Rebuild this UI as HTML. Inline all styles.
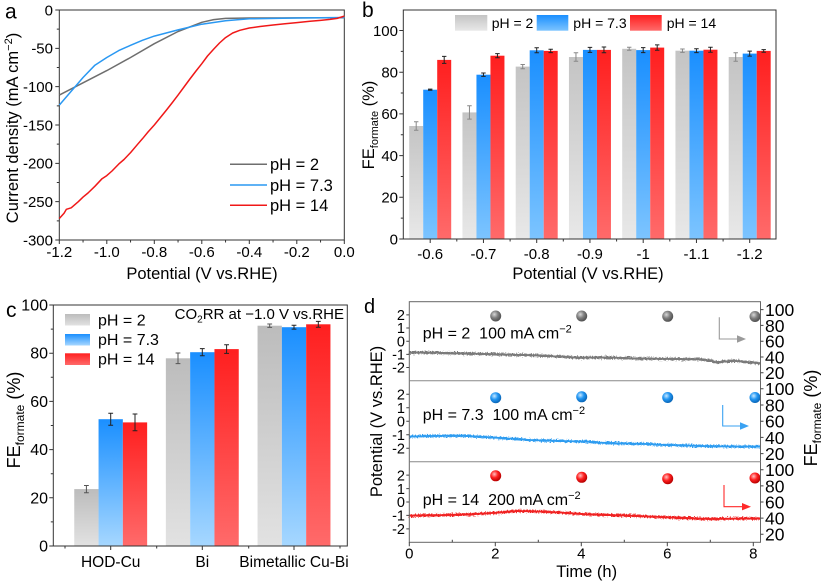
<!DOCTYPE html>
<html><head><meta charset="utf-8"><style>
html,body{margin:0;padding:0;background:#fff;}
svg{display:block;font-family:"Liberation Sans",Arial,sans-serif;}
</style></head><body>
<svg width="827" height="585" viewBox="0 0 827 585" xmlns="http://www.w3.org/2000/svg">
<defs>
<linearGradient id="gG" x1="0" y1="0" x2="0" y2="1"><stop offset="0" stop-color="#c4c4c4"/><stop offset="1" stop-color="#e8e8e8"/></linearGradient>
<linearGradient id="gB" x1="0" y1="0" x2="0" y2="1"><stop offset="0" stop-color="#1a8fff"/><stop offset="1" stop-color="#7cc4ff"/></linearGradient>
<linearGradient id="gR" x1="0" y1="0" x2="0" y2="1"><stop offset="0" stop-color="#ff1f1f"/><stop offset="1" stop-color="#ff6a6a"/></linearGradient>
<linearGradient id="gB2" x1="0" y1="0" x2="0" y2="1"><stop offset="0" stop-color="#1a8fff"/><stop offset="1" stop-color="#a6d7ff"/></linearGradient>
<linearGradient id="gG2" x1="0" y1="0" x2="0" y2="1"><stop offset="0" stop-color="#bcbcbc"/><stop offset="1" stop-color="#e2e2e2"/></linearGradient>
<radialGradient id="sG" cx="0.38" cy="0.35" r="0.65"><stop offset="0" stop-color="#d8d8d8"/><stop offset="0.5" stop-color="#808080"/><stop offset="1" stop-color="#505050"/></radialGradient>
<radialGradient id="sB" cx="0.38" cy="0.35" r="0.65"><stop offset="0" stop-color="#c8e8ff"/><stop offset="0.5" stop-color="#2196f3"/><stop offset="1" stop-color="#0b67b8"/></radialGradient>
<radialGradient id="sR" cx="0.38" cy="0.35" r="0.65"><stop offset="0" stop-color="#ffc0c0"/><stop offset="0.5" stop-color="#ff2020"/><stop offset="1" stop-color="#b80000"/></radialGradient>
<filter id="nz" x="0" y="0" width="827" height="585" filterUnits="userSpaceOnUse"><feTurbulence type="fractalNoise" baseFrequency="0.8" numOctaves="1" seed="3" result="t"/><feDisplacementMap in="SourceGraphic" in2="t" scale="5" xChannelSelector="R" yChannelSelector="G"/></filter>
</defs>

<!-- ================= PANEL A ================= -->
<text x="5" y="18.5" font-size="21">a</text>
<g stroke="#333" stroke-width="1" fill="none">
<rect x="59.3" y="10" width="285" height="230"/>
<path d="M59.3,240v4M106.8,240v4M154.3,240v4M201.8,240v4M249.3,240v4M296.8,240v4M344.3,240v4
M83.05,240v2.5M130.55,240v2.5M178.05,240v2.5M225.55,240v2.5M273.05,240v2.5M320.55,240v2.5
M59.3,10h-4M59.3,48.33h-4M59.3,86.67h-4M59.3,125h-4M59.3,163.33h-4M59.3,201.67h-4M59.3,240h-4
M59.3,29.17h-2.5M59.3,67.5h-2.5M59.3,105.83h-2.5M59.3,144.17h-2.5M59.3,182.5h-2.5M59.3,220.83h-2.5"/>
</g>
<g font-size="15" text-anchor="end">
<text x="53" y="15.3">0</text><text x="53" y="53.6">-50</text><text x="53" y="92">-100</text><text x="53" y="130.3">-150</text><text x="53" y="168.6">-200</text><text x="53" y="207">-250</text><text x="53" y="245.3">-300</text>
</g>
<g font-size="15" text-anchor="middle">
<text x="59.3" y="257">-1.2</text><text x="106.8" y="257">-1.0</text><text x="154.3" y="257">-0.8</text><text x="201.8" y="257">-0.6</text><text x="249.3" y="257">-0.4</text><text x="296.8" y="257">-0.2</text><text x="344.3" y="257">0.0</text>
</g>
<text x="202" y="279" font-size="16.5" text-anchor="middle">Potential (V vs.RHE)</text>
<text transform="translate(18,128) rotate(-90)" font-size="16.5" text-anchor="middle">Current density (mA cm<tspan font-size="11" dy="-6">−2</tspan><tspan dy="6">)</tspan></text>
<g fill="none" stroke-width="1.5" stroke-linejoin="round">
<polyline stroke="#6e6e6e" points="59.3,95.1 83.05,82.8 106.8,70.6 130.55,57.5 154.3,43.7 178.05,31.5 201.8,22.3 213.7,19.6 225.55,18.4 249.3,18.05 296.8,17.9 344.3,17.7"/>
<polyline stroke="#2a98f2" points="59.3,105.1 71.2,91.3 83.05,77.5 94.9,65.2 106.8,57.5 118.7,50.6 130.55,45.3 142.4,40.3 154.3,36.1 178.05,29.9 201.8,24.2 225.55,20.7 249.3,18.8 296.8,18.05 344.3,17.5"/>
<polyline stroke="#f01818" points="59.3,218.5 64.05,213.2 66.4,209.3 71.2,207.8 78.3,201.7 83.05,197.1 88,193 94.9,186.3 102.05,178.7 106.8,175.6 112,171 118.7,164.1 124,159.5 130.55,152.6 137.7,144.2 142.4,138.8 148,132 154.3,125 160,118 166.2,110.4 172,103 178.05,95.1 184,87 189.9,79 196,71 201.8,63.7 207.5,56 213.7,49.1 219.5,43 225.55,37.6 232.7,33 239.8,30.3 249.3,28 260,26.5 273.05,25 285,23.8 296.8,22.65 310,21.3 320.55,20.35 330,19.4 337.2,18.4 344.3,16.1"/>
</g>
<g stroke-width="1.5">
<line x1="230" y1="164.3" x2="267" y2="164.3" stroke="#6e6e6e"/>
<line x1="230" y1="185" x2="267" y2="185" stroke="#2a98f2"/>
<line x1="230" y1="205.3" x2="267" y2="205.3" stroke="#f01818"/>
</g>
<g font-size="16.5">
<text x="270" y="170">pH = 2</text><text x="270" y="190.8">pH = 7.3</text><text x="270" y="211">pH = 14</text>
</g>

<!-- ================= PANEL B ================= -->
<text x="362" y="17" font-size="21">b</text>
<g>
<rect x="409.2" y="126" width="14" height="113" fill="url(#gG)"/>
<rect x="423.2" y="89.7" width="14" height="149.3" fill="url(#gB)"/>
<rect x="437.2" y="59.9" width="14" height="179.1" fill="url(#gR)"/>
<rect x="462.45" y="112.4" width="14" height="126.6" fill="url(#gG)"/>
<rect x="476.45" y="74.7" width="14" height="164.3" fill="url(#gB)"/>
<rect x="490.45" y="55.7" width="14" height="183.3" fill="url(#gR)"/>
<rect x="515.7" y="66.6" width="14" height="172.4" fill="url(#gG)"/>
<rect x="529.7" y="50.3" width="14" height="188.7" fill="url(#gB)"/>
<rect x="543.7" y="50.9" width="14" height="188.1" fill="url(#gR)"/>
<rect x="568.95" y="57" width="14" height="182" fill="url(#gG)"/>
<rect x="582.95" y="49.9" width="14" height="189.1" fill="url(#gB)"/>
<rect x="596.95" y="49.9" width="14" height="189.1" fill="url(#gR)"/>
<rect x="622.2" y="48.8" width="14" height="190.2" fill="url(#gG)"/>
<rect x="636.2" y="50.1" width="14" height="188.9" fill="url(#gB)"/>
<rect x="650.2" y="47.6" width="14" height="191.4" fill="url(#gR)"/>
<rect x="675.45" y="50.7" width="14" height="188.3" fill="url(#gG)"/>
<rect x="689.45" y="50.7" width="14" height="188.3" fill="url(#gB)"/>
<rect x="703.45" y="49.7" width="14" height="189.3" fill="url(#gR)"/>
<rect x="728.7" y="57" width="14" height="182" fill="url(#gG)"/>
<rect x="742.7" y="53.6" width="14" height="185.4" fill="url(#gB)"/>
<rect x="756.7" y="50.9" width="14" height="188.1" fill="url(#gR)"/>
</g>
<g stroke="#888" stroke-width="1" fill="none">
<path d="M416.2,121.8v8.4M414,121.8h4.4M414,130.2h4.4
M469.45,105.7v13.4M467.2,105.7h4.5M467.2,119.1h4.5
M522.7,64.5v4.2M520.5,64.5h4.4M520.5,68.7h4.4
M575.95,52.8v8.4M573.7,52.8h4.5M573.7,61.2h4.5
M629.2,47.3v3M627,47.3h4.4M627,50.3h4.4
M682.45,49v3.4M680.2,49h4.5M680.2,52.4h4.5
M735.7,52.8v8.4M733.5,52.8h4.4M733.5,61.2h4.4"/>
</g>
<g stroke="#222" stroke-width="1" fill="none">
<path d="M430.2,89.1v1.2M428,89.1h4.4M428,90.3h4.4
M444.2,56.4v7M442,56.4h4.4M442,63.4h4.4
M483.45,73v3.4M481.2,73h4.5M481.2,76.4h4.5
M497.45,53.6v4.2M495.2,53.6h4.5M495.2,57.8h4.5
M536.7,47.8v5M534.5,47.8h4.4M534.5,52.8h4.4
M550.7,49.2v3.4M548.5,49.2h4.4M548.5,52.6h4.4
M589.95,47.4v5M587.7,47.4h4.5M587.7,52.4h4.5
M603.95,47v5.8M601.7,47h4.5M601.7,52.8h4.5
M643.2,47.6v5M641,47.6h4.4M641,52.6h4.4
M657.2,44.9v5.4M655,44.9h4.4M655,50.3h4.4
M696.45,48.8v3.8M694.2,48.8h4.5M694.2,52.6h4.5
M710.45,47.2v5M708.2,47.2h4.5M708.2,52.2h4.5
M749.7,51.1v5M747.5,51.1h4.4M747.5,56.1h4.4
M763.7,49.6v2.6M761.5,49.6h4.4M761.5,52.2h4.4"/>
</g>
<g stroke="#333" stroke-width="1" fill="none">
<rect x="403.3" y="10" width="372.7" height="229"/>
<path d="M403.3,239h-4M403.3,197.3h-4M403.3,155.6h-4M403.3,113.9h-4M403.3,72.2h-4M403.3,30.5h-4
M403.3,218.15h-2.5M403.3,176.45h-2.5M403.3,134.75h-2.5M403.3,93.05h-2.5M403.3,51.35h-2.5
M430.2,239v4M483.45,239v4M536.7,239v4M589.95,239v4M643.2,239v4M696.45,239v4M749.7,239v4
M456.8,239v2.5M510.1,239v2.5M563.3,239v2.5M616.6,239v2.5M669.8,239v2.5M723.1,239v2.5"/>
</g>
<g font-size="15" text-anchor="end">
<text x="398" y="244.3">0</text><text x="398" y="202.6">20</text><text x="398" y="160.9">40</text><text x="398" y="119.2">60</text><text x="398" y="77.5">80</text><text x="398" y="35.8">100</text>
</g>
<g font-size="15" text-anchor="middle">
<text x="430.2" y="259">-0.6</text><text x="483.45" y="259">-0.7</text><text x="536.7" y="259">-0.8</text><text x="589.95" y="259">-0.9</text><text x="643.2" y="259">-1</text><text x="696.45" y="259">-1.1</text><text x="749.7" y="259">-1.2</text>
</g>
<text x="588" y="279" font-size="16.5" text-anchor="middle">Potential (V vs.RHE)</text>
<text transform="translate(374,125) rotate(-90)" font-size="16.5" text-anchor="middle">FE<tspan font-size="11" dy="4">formate</tspan><tspan dy="-4"> (%)</tspan></text>
<rect x="455" y="15" width="32.3" height="15.7" fill="url(#gG)"/>
<rect x="536.7" y="15" width="31.6" height="15.7" fill="url(#gB)"/>
<rect x="630" y="15" width="31.7" height="15.7" fill="url(#gR)"/>
<g font-size="14"><text x="491.7" y="28">pH = 2</text><text x="573.3" y="28">pH = 7.3</text><text x="666.7" y="28">pH = 14</text></g>

<!-- ================= PANEL C ================= -->
<text x="6" y="317" font-size="21">c</text>
<g>
<rect x="74.25" y="489.1" width="24.3" height="56.9" fill="url(#gG2)"/>
<rect x="98.55" y="419.2" width="24.3" height="126.8" fill="url(#gB2)"/>
<rect x="122.85" y="422.4" width="24.3" height="123.6" fill="url(#gR)"/>
<rect x="165.85" y="358.3" width="24.3" height="187.7" fill="url(#gG2)"/>
<rect x="190.15" y="352.2" width="24.3" height="193.8" fill="url(#gB2)"/>
<rect x="214.45" y="349.1" width="24.3" height="196.9" fill="url(#gR)"/>
<rect x="257.55" y="325.7" width="24.3" height="220.3" fill="url(#gG2)"/>
<rect x="281.85" y="327.2" width="24.3" height="218.8" fill="url(#gB2)"/>
<rect x="306.15" y="324.3" width="24.3" height="221.7" fill="url(#gR)"/>
</g>
<g stroke="#555" stroke-width="1" fill="none">
<path d="M86.4,485.5v7.2M84,485.5h4.8M84,492.7h4.8
M178,353v10.6M175.6,353h4.8M175.6,363.6h4.8
M269.7,324v3.4M267.3,324h4.8M267.3,327.4h4.8"/>
</g>
<g stroke="#222" stroke-width="1" fill="none">
<path d="M110.7,413.2v12M108.3,413.2h4.8M108.3,425.2h4.8
M135,414v16.8M132.6,414h4.8M132.6,430.8h4.8
M202.3,348.6v7.2M199.9,348.6h4.8M199.9,355.8h4.8
M226.6,344.8v8.6M224.2,344.8h4.8M224.2,353.4h4.8
M294,325.3v3.8M291.6,325.3h4.8M291.6,329.1h4.8
M318.3,321.4v5.8M315.9,321.4h4.8M315.9,327.2h4.8"/>
</g>
<g stroke="#333" stroke-width="1" fill="none">
<rect x="53.3" y="305" width="294" height="241"/>
<path d="M53.3,546h-4M53.3,497.8h-4M53.3,449.6h-4M53.3,401.4h-4M53.3,353.2h-4M53.3,305h-4
M53.3,521.9h-2.5M53.3,473.7h-2.5M53.3,425.5h-2.5M53.3,377.3h-2.5M53.3,329.1h-2.5
M110.7,546v4M202.3,546v4M294,546v4
M65,546v2.5M156.7,546v2.5M248.7,546v2.5M340,546v2.5"/>
</g>
<g font-size="16" text-anchor="end">
<text x="48" y="551.5">0</text><text x="48" y="503.3">20</text><text x="48" y="455.1">40</text><text x="48" y="406.9">60</text><text x="48" y="358.7">80</text><text x="48" y="310.5">100</text>
</g>
<g font-size="15.5" text-anchor="middle">
<text x="110.7" y="567">HOD-Cu</text><text x="202.3" y="567">Bi</text><text x="294" y="567">Bimetallic Cu-Bi</text>
</g>
<text transform="translate(20,420) rotate(-90)" font-size="18" text-anchor="middle">FE<tspan font-size="12" dy="4">formate</tspan><tspan dy="-4"> (%)</tspan></text>
<rect x="65" y="314" width="25" height="11.5" fill="url(#gG2)"/>
<rect x="65" y="334" width="25" height="11.5" fill="url(#gB2)"/>
<rect x="65" y="353.3" width="25" height="11.7" fill="url(#gR)"/>
<g font-size="16"><text x="98" y="325.5">pH = 2</text><text x="98" y="345">pH = 7.3</text><text x="98" y="364.5">pH = 14</text></g>
<text x="344" y="319" font-size="15" text-anchor="end">CO<tspan font-size="10" dy="3.5">2</tspan><tspan dy="-3.5">RR at −1.0 V vs.RHE</tspan></text>

<!-- ================= PANEL D ================= -->
<text x="364" y="313" font-size="20">d</text>
<g fill="none" stroke-linejoin="round">
<polyline stroke="#7a7a7a" stroke-width="1.8" points="409.3,352.7 430,352.5 450,353.2 470,353.6 495,354.3 533,355.3 560,356.6 580,357.7 605,357.4 633,358.3 660,358.8 700,359.3 710,360.5 717,362.5 725,361.5 733,360.7 745,361.8 760,363.3"/>
<polyline stroke="#7a7a7a" stroke-width="2.6" filter="url(#nz)" points="409.3,352.7 430,352.5 450,353.2 470,353.6 495,354.3 533,355.3 560,356.6 580,357.7 605,357.4 633,358.3 660,358.8 700,359.3 710,360.5 717,362.5 725,361.5 733,360.7 745,361.8 760,363.3"/>
<polyline stroke="#2d9cf0" stroke-width="1.8" points="409.3,436.7 430,436 461,435.7 490,437.3 530,440 560,441 585,441.5 600,442.7 620,443.4 645,444 667,445 700,446 730,446.5 760,446.7"/>
<polyline stroke="#2d9cf0" stroke-width="2.6" filter="url(#nz)" points="409.3,436.7 430,436 461,435.7 490,437.3 530,440 560,441 585,441.5 600,442.7 620,443.4 645,444 667,445 700,446 730,446.5 760,446.7"/>
<polyline stroke="#f02020" stroke-width="1.8" points="409.3,515.7 440,515.2 470,514.3 500,512.5 517,511 540,511.6 560,512.5 581,514 600,514.8 624,515.5 650,516.5 667,517.3 690,518.2 710,519 735,518.6 760,518.5"/>
<polyline stroke="#f02020" stroke-width="2.6" filter="url(#nz)" points="409.3,515.7 440,515.2 470,514.3 500,512.5 517,511 540,511.6 560,512.5 581,514 600,514.8 624,515.5 650,516.5 667,517.3 690,518.2 710,519 735,518.6 760,518.5"/>
</g>
<g>
<circle cx="495.7" cy="316" r="5.5" fill="url(#sG)"/><circle cx="581.7" cy="316" r="5.5" fill="url(#sG)"/><circle cx="667.7" cy="316.3" r="5.5" fill="url(#sG)"/><circle cx="755" cy="316.5" r="5.5" fill="url(#sG)"/>
<circle cx="495.7" cy="397.7" r="5.5" fill="url(#sB)"/><circle cx="581.7" cy="396.8" r="5.5" fill="url(#sB)"/><circle cx="667.7" cy="397.5" r="5.5" fill="url(#sB)"/><circle cx="755" cy="397.5" r="5.5" fill="url(#sB)"/>
<circle cx="495.7" cy="475.8" r="5.5" fill="url(#sR)"/><circle cx="581.7" cy="477.3" r="5.5" fill="url(#sR)"/><circle cx="667.7" cy="478.7" r="5.5" fill="url(#sR)"/><circle cx="755" cy="478" r="5.5" fill="url(#sR)"/>
</g>
<path d="M719.3,317.3V339H738" fill="none" stroke="#9a9a9a" stroke-width="1.1"/>
<polygon points="746,339 737,335.3 737,342.7" fill="#9a9a9a"/>
<path d="M722.7,405V426H741" fill="none" stroke="#3aa2f2" stroke-width="1.1"/>
<polygon points="749,426 740,422.3 740,429.7" fill="#3aa2f2"/>
<path d="M724,485V506.7H743" fill="none" stroke="#ff2a2a" stroke-width="1.1"/>
<polygon points="751,506.7 742,503 742,510.4" fill="#ff2a2a"/>
<g stroke="#666" stroke-width="1" fill="none">
<rect x="409.3" y="301.7" width="351.2" height="240.6"/>
<line x1="409.3" y1="380.7" x2="760.5" y2="380.7" stroke="#888"/>
<line x1="409.3" y1="461.7" x2="760.5" y2="461.7" stroke="#888"/>
</g>
<g stroke="#444" stroke-width="1" fill="none">
<path d="M409.3,314.87h-3M409.3,328.03h-3M409.3,341.2h-3M409.3,354.37h-3M409.3,367.53h-3
M409.3,394.2h-3M409.3,407.7h-3M409.3,421.2h-3M409.3,434.7h-3M409.3,448.2h-3
M409.3,475.13h-3M409.3,488.57h-3M409.3,502h-3M409.3,515.43h-3M409.3,528.87h-3
M760.5,309.6h3M760.5,325.4h3M760.5,341.2h3M760.5,357h3M760.5,372.8h3
M760.5,388.8h3M760.5,405h3M760.5,421.2h3M760.5,437.4h3M760.5,453.6h3
M760.5,469.76h3M760.5,485.9h3M760.5,502h3M760.5,518.1h3M760.5,534.2h3
M409.3,542.3v4M495.3,542.3v4M581.3,542.3v4M667.3,542.3v4M753.3,542.3v4
M452.3,542.3v-2.5M538.3,542.3v-2.5M624.3,542.3v-2.5M710.3,542.3v-2.5"/>
</g>
<g font-size="14.5" text-anchor="end">
<text x="405" y="320">2</text><text x="405" y="333.2">1</text><text x="405" y="346.4">0</text><text x="405" y="359.5">-1</text><text x="405" y="372.7">-2</text>
<text x="405" y="399.4">2</text><text x="405" y="412.9">1</text><text x="405" y="426.4">0</text><text x="405" y="439.9">-1</text><text x="405" y="453.4">-2</text>
<text x="405" y="480.3">2</text><text x="405" y="493.8">1</text><text x="405" y="507.2">0</text><text x="405" y="520.6">-1</text><text x="405" y="534">-2</text>
</g>
<g font-size="17.5">
<text x="765" y="316">100</text><text x="765" y="331.8">80</text><text x="765" y="347.6">60</text><text x="765" y="363.4">40</text><text x="765" y="379.2">20</text>
<text x="765" y="395.2">100</text><text x="765" y="411.4">80</text><text x="765" y="427.6">60</text><text x="765" y="443.8">40</text><text x="765" y="460">20</text>
<text x="765" y="476.2">100</text><text x="765" y="492.3">80</text><text x="765" y="508.4">60</text><text x="765" y="524.5">40</text><text x="765" y="540.6">20</text>
</g>
<g font-size="15" text-anchor="middle">
<text x="409.3" y="558.5">0</text><text x="495.3" y="558.5">2</text><text x="581.3" y="558.5">4</text><text x="667.3" y="558.5">6</text><text x="753.3" y="558.5">8</text>
</g>
<text x="586.7" y="577" font-size="16.5" text-anchor="middle">Time (h)</text>
<text transform="translate(382,421.5) rotate(-90)" font-size="16.5" text-anchor="middle">Potential (V vs.RHE)</text>
<text transform="translate(817,418) rotate(-90)" font-size="18" text-anchor="middle">FE<tspan font-size="12" dy="4">formate</tspan><tspan dy="-4"> (%)</tspan></text>
<g font-size="16">
<text x="422.7" y="338.5">pH = 2&#160;&#160;100 mA cm<tspan font-size="11" dy="-6">−2</tspan></text>
<text x="422.7" y="420">pH = 7.3&#160;&#160;100 mA cm<tspan font-size="11" dy="-6">−2</tspan></text>
<text x="422.7" y="505">pH = 14&#160;&#160;200 mA cm<tspan font-size="11" dy="-6">−2</tspan></text>
</g>
</svg>
</body></html>
